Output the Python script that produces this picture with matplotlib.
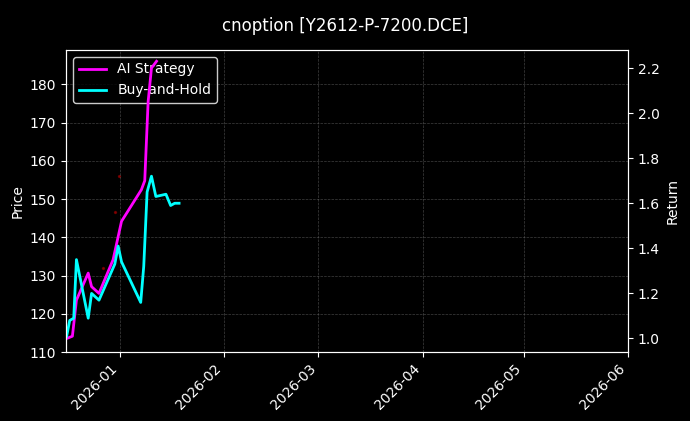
import numpy as np
import pandas as pd
import matplotlib.pyplot as plt
import matplotlib.dates as mdates

plt.style.use('dark_background')

# day offsets from 2026-01-01
ai_days = [-15.8, -14.1, -12.9, -9.4, -8.4, -6.2, -2, 0.5, 6.4, 7.4, 8.4, 9.4, 10.9]
ai_ret = [1.00, 1.01, 1.17, 1.29, 1.23, 1.20, 1.35, 1.52, 1.66, 1.70, 2.05, 2.20, 2.23]
bh_days = [-15.8, -14.9, -13.7, -12.9, -9.4, -8.4, -6.2, -1.5, -0.5, 0.5, 6.2, 7.1, 8.1, 9.4,
           10.7, 13.7, 15.1, 16.3, 17.6]
bh_ret = [1.01, 1.08, 1.09, 1.35, 1.09, 1.20, 1.17, 1.33, 1.41, 1.34, 1.16, 1.32, 1.65, 1.72,
          1.63, 1.64, 1.59, 1.60, 1.60]
px_days = [-5, -1.5, -0.2]
px_vals = [132, 146.7, 156]

base = pd.Timestamp('2026-01-01')
to_dates = lambda d: [base + pd.Timedelta(days=x) for x in d]

fig = plt.figure(figsize=(6.9, 4.21), dpi=100)
fig.patch.set_facecolor('black')
ax = fig.add_axes([66/690, 1 - 352/421, (628-66)/690, (352-50)/421])
ax.set_facecolor('black')
ax.scatter(to_dates(px_days), px_vals, s=2, color='red', alpha=0.35)
ax.set_ylim(110, 189)
ax.set_ylabel('Price')
ax.grid(True, color='gray', linestyle='--', linewidth=0.5, alpha=0.5)

ax2 = ax.twinx()
l1, = ax2.plot(to_dates(ai_days), ai_ret, color='#ff00ff', lw=2, label='AI Strategy')
l2, = ax2.plot(to_dates(bh_days), bh_ret, color='#00ffff', lw=2, label='Buy-and-Hold')
ax2.set_ylim(0.94, 2.28)
ax2.set_ylabel('Return')

ax.set_xlim(base + pd.Timedelta(days=-16), base + pd.Timedelta(days=151))
ax.xaxis.set_major_locator(mdates.MonthLocator())
ax.xaxis.set_major_formatter(mdates.DateFormatter('%Y-%m'))
plt.setp(ax.get_xticklabels(), rotation=45, ha='right')

leg = ax.legend([l1, l2], ['AI Strategy', 'Buy-and-Hold'], loc='upper left', facecolor='black', edgecolor='white')
fig.suptitle('cnoption [Y2612-P-7200.DCE]', y=0.96)
fig.savefig('out.png', dpi=100)
